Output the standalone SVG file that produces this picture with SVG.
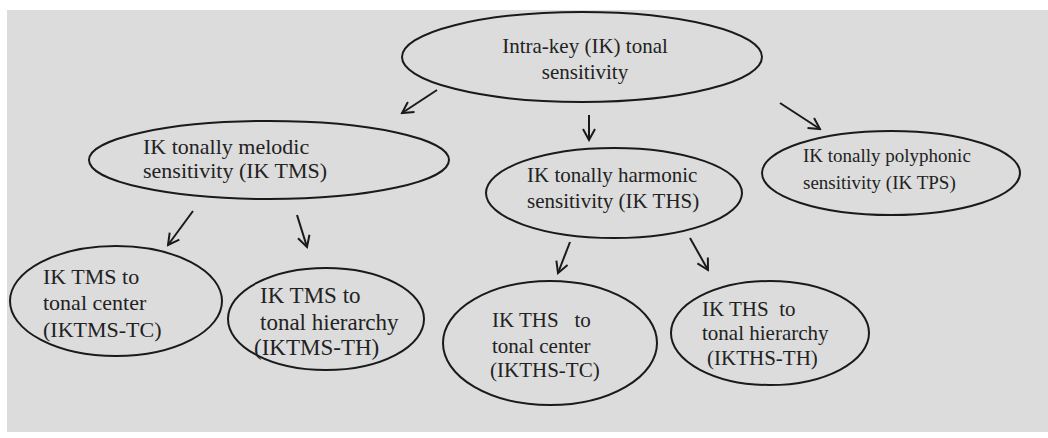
<svg xmlns="http://www.w3.org/2000/svg" width="1048" height="438" viewBox="0 0 1048 438">
<defs>
<marker id="ah" markerWidth="14" markerHeight="14" refX="12" refY="7" orient="auto" markerUnits="userSpaceOnUse">
<path d="M1,1 L12,7 L1,13" fill="none" stroke="#1a1a1a" stroke-width="2"/>
</marker>
</defs>
<style>
.n{fill:none;stroke:#1a1a1a;stroke-width:2}
.t{font-family:"Liberation Serif","Times New Roman",serif;font-size:21px;fill:#222}
.s{font-size:19px}
.m{font-size:22px}
.l{font-size:23px}
.c{stroke:#1a1a1a;stroke-width:2;fill:none;marker-end:url(#ah)}
</style>
<rect x="0" y="0" width="1048" height="438" fill="#ffffff"/>
<rect x="7" y="10" width="1041" height="422" fill="#dcdcdc"/>
<g id="connectors">
<line class="c" x1="437" y1="90" x2="402" y2="113"/>
<line class="c" x1="589" y1="115" x2="589" y2="140"/>
<line class="c" x1="780" y1="103" x2="820" y2="129"/>
<line class="c" x1="193" y1="211" x2="168" y2="245"/>
<line class="c" x1="297" y1="215" x2="307" y2="247"/>
<line class="c" x1="570" y1="242" x2="558" y2="273"/>
<line class="c" x1="690" y1="238" x2="708" y2="270"/>
</g>
<g id="ik">
<ellipse class="n" cx="582" cy="57" rx="180" ry="45"/>
<text class="t" x="585" y="53" text-anchor="middle">Intra-key (IK) tonal</text>
<text class="t" x="585" y="79" text-anchor="middle">sensitivity</text>
</g>
<g id="tms">
<ellipse class="n" cx="269" cy="160" rx="180" ry="39"/>
<text class="t m" x="143" y="154">IK tonally melodic</text>
<text class="t m" x="143" y="178">sensitivity (IK TMS)</text>
</g>
<g id="ths">
<ellipse class="n" cx="614" cy="193" rx="128" ry="45"/>
<text class="t" x="527" y="182">IK tonally harmonic</text>
<text class="t" x="527" y="208">sensitivity (IK THS)</text>
</g>
<g id="tps">
<ellipse class="n" cx="891" cy="173" rx="129" ry="42"/>
<text class="t s" x="803" y="162">IK tonally polyphonic</text>
<text class="t s" x="803" y="189">sensitivity (IK TPS)</text>
</g>
<g id="tms-tc">
<ellipse class="n" cx="116" cy="301" rx="106" ry="55"/>
<text class="t m" x="43" y="284">IK TMS to</text>
<text class="t m" x="43" y="310">tonal center</text>
<text class="t m" x="43" y="337">(IKTMS-TC)</text>
</g>
<g id="tms-th">
<ellipse class="n" cx="326" cy="319" rx="98" ry="51"/>
<text class="t l" x="260" y="303">IK TMS to</text>
<text class="t l" x="260" y="330">tonal hierarchy</text>
<text class="t l" x="254" y="355">(IKTMS-TH)</text>
</g>
<g id="ths-tc">
<ellipse class="n" cx="550" cy="343" rx="107" ry="62"/>
<text class="t" x="492" y="327" xml:space="preserve">IK THS   to</text>
<text class="t" x="492" y="353">tonal center</text>
<text class="t" x="490" y="377">(IKTHS-TC)</text>
</g>
<g id="ths-th">
<ellipse class="n" cx="770" cy="333" rx="99" ry="52"/>
<text class="t" x="702" y="316" xml:space="preserve">IK THS  to</text>
<text class="t" x="702" y="340">tonal hierarchy</text>
<text class="t" x="707" y="365">(IKTHS-TH)</text>
</g>
</svg>
